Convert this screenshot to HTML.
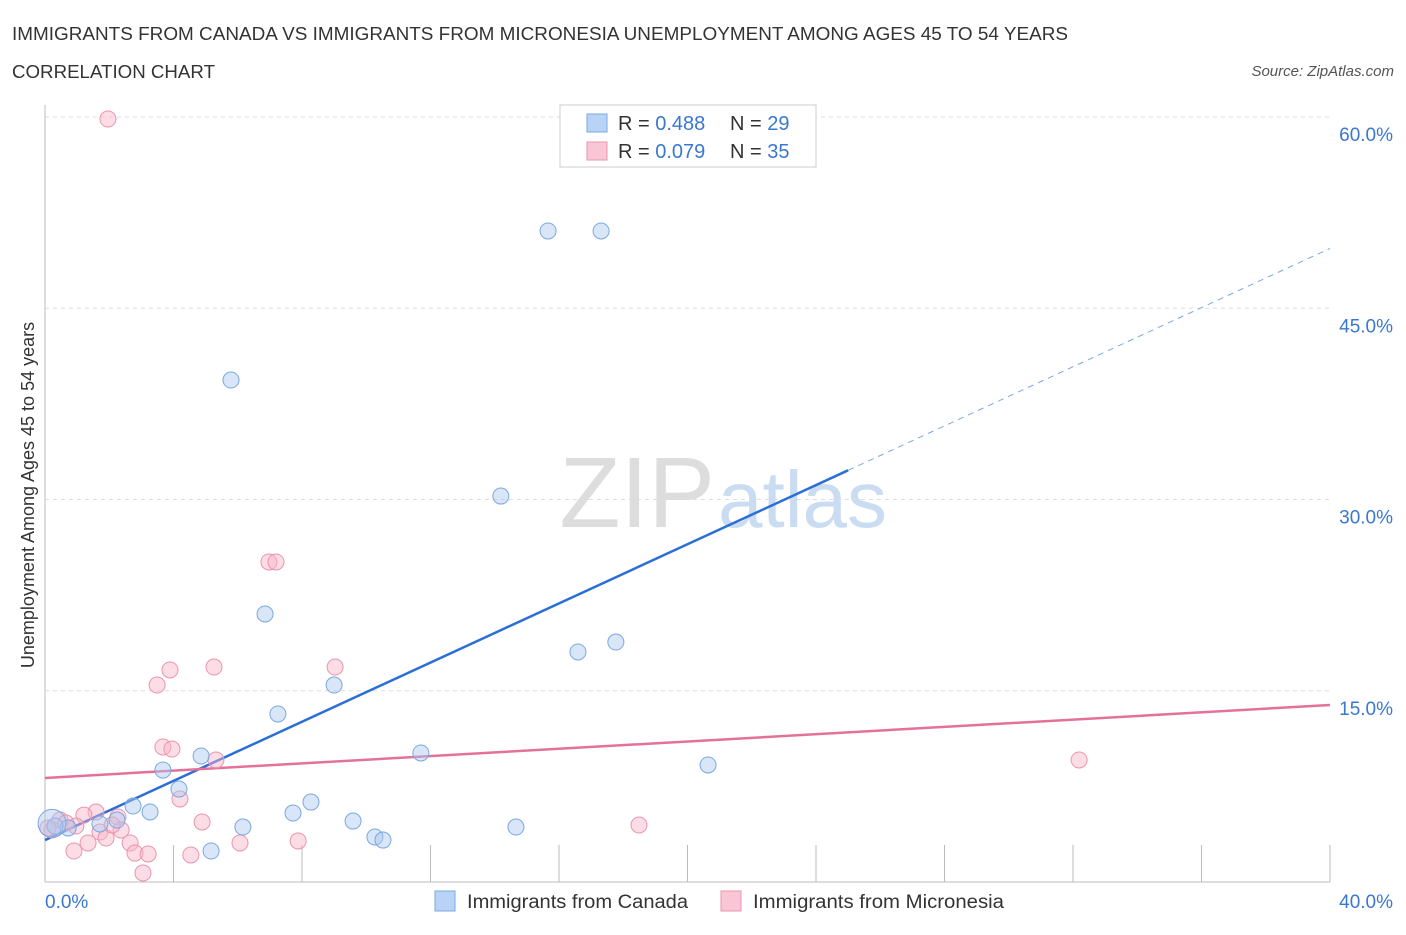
<!DOCTYPE html>
<html><head><meta charset="utf-8"><style>
body{margin:0;background:#fff;font-family:"Liberation Sans",sans-serif;}
svg text{font-family:"Liberation Sans",sans-serif;}
</style></head><body>
<svg width="1406" height="930">
<text x="12" y="40" font-size="18" fill="#333" textLength="1056" lengthAdjust="spacingAndGlyphs">IMMIGRANTS FROM CANADA VS IMMIGRANTS FROM MICRONESIA UNEMPLOYMENT AMONG AGES 45 TO 54 YEARS</text>
<text x="12" y="78" font-size="18" fill="#333" textLength="203" lengthAdjust="spacingAndGlyphs">CORRELATION CHART</text>
<text x="1394" y="76" font-size="15" fill="#555" font-style="italic" text-anchor="end">Source: ZipAtlas.com</text>
<text x="715" y="527" font-size="100" fill="#ddd" font-family="Liberation Serif" text-anchor="end">ZIP</text>
<text x="718" y="527" font-size="80" fill="#c9dcf2">atlas</text>
<g id="grid"></g><g id="axes"></g><g id="lines"></g><g id="pts"></g>
<text transform="translate(34,495) rotate(-90)" font-size="18" fill="#333" text-anchor="middle">Unemployment Among Ages 45 to 54 years</text>
<g>
<rect x="560" y="105" width="256" height="62" fill="#fff" stroke="#ccc"/>
<rect x="587" y="114" width="20" height="18" fill="#b8d3f5" stroke="#7aa8e0"/>
<rect x="587" y="142" width="20" height="18" fill="#f9c6d5" stroke="#ea94ae"/>
<text x="618" y="130" font-size="20" fill="#333">R = <tspan fill="#3a78d0">0.488</tspan></text>
<text x="730" y="130" font-size="20" fill="#333">N = <tspan fill="#3a78d0">29</tspan></text>
<text x="618" y="158" font-size="20" fill="#333">R = <tspan fill="#3a78d0">0.079</tspan></text>
<text x="730" y="158" font-size="20" fill="#333">N = <tspan fill="#3a78d0">35</tspan></text>
</g>
<g>
<rect x="435" y="891" width="20" height="20" fill="#b8d3f5" stroke="#7aa8e0"/>
<text x="467" y="908" font-size="19" fill="#333" textLength="221" lengthAdjust="spacingAndGlyphs">Immigrants from Canada</text>
<rect x="721" y="891" width="20" height="20" fill="#f9c6d5" stroke="#ea94ae"/>
<text x="753" y="908" font-size="19" fill="#333" textLength="251" lengthAdjust="spacingAndGlyphs">Immigrants from Micronesia</text>
</g>
</svg>
<script>
const yTicks=[15,30,45,60];
const yTickLabels=["15.0%","30.0%","45.0%","60.0%"];
const canadaX=[15.66,17.31,5.79,14.19,6.85,16.59,17.77,9.00,7.25,11.70,4.86,3.67,20.64,4.17,2.74,3.27,8.28,7.72,9.59,6.16,14.66,10.27,10.52,5.17,2.24,1.71,0.72,0.31,0.22];
const canadaY=[51.06,51.06,39.37,30.27,21.02,18.04,18.82,15.45,13.18,10.12,9.88,8.78,9.18,7.29,5.96,5.49,6.27,5.41,4.78,4.31,4.31,3.53,3.29,2.43,4.86,4.55,4.24,4.39,4.6];
const microX=[1.96,6.97,7.19,3.89,5.26,9.03,3.49,3.67,3.95,5.32,4.20,32.19,1.59,1.21,2.27,4.89,18.49,0.47,0.96,1.71,2.37,1.90,1.34,2.65,6.07,7.88,0.90,2.80,3.21,4.54,3.05,0.65,0.22,0.09,2.09];
const microY=[59.84,25.10,25.10,16.63,16.86,16.86,15.45,10.59,10.43,9.57,6.51,9.57,5.49,5.25,5.10,4.71,4.47,4.86,4.39,3.92,4.08,3.45,3.06,3.06,3.06,3.22,2.43,2.27,2.20,2.12,0.71,4.63,4.08,4.24,4.47];
const canadaLine=[3.29,1.16];
const microLine=[8.16,0.143];
const X=v=>45+v*32.125, Y=v=>882-v*12.75;
const NS="http://www.w3.org/2000/svg";
function mk(parent,tag,attrs){const e=document.createElementNS(NS,tag);for(const k in attrs)e.setAttribute(k,attrs[k]);document.getElementById(parent).appendChild(e);return e;}
yTicks.forEach((t,i)=>{
 const g=mk('grid','line',{x1:45,x2:1330,y1:Y(t),y2:Y(t),stroke:'#ddd','stroke-dasharray':'4,4'});
 
 
 const l=mk('axes','text',{x:1393,y:Y(t)+24,'font-size':19,fill:'#3a78d0','text-anchor':'end'});
 l.textContent=yTickLabels[i];
 
 
});
const ax=mk('axes','line',{x1:45,x2:1330,y1:882,y2:882,stroke:'#bbb'});


const ay=mk('axes','line',{x1:45,x2:45,y1:105,y2:882,stroke:'#bbb'});


for(let v=0;v<=40;v+=4){const t=mk('axes','line',{x1:X(v),x2:X(v),y1:845,y2:882,stroke:'#bbb'});
 
 }
[[0,"0.0%",'start',45],[40,"40.0%",'end',1393]].forEach(a=>{const t=mk('axes','text',{x:a[3],y:908,'font-size':19,fill:'#3a78d0','text-anchor':a[2]});t.textContent=a[1];
 
 });
const b1=mk('lines','line',{x1:X(0),y1:Y(canadaLine[0]),x2:X(25),y2:Y(canadaLine[0]+25*canadaLine[1]),stroke:'#2b6fd6','stroke-width':2.5});


const b2=mk('lines','line',{x1:X(25),y1:Y(canadaLine[0]+25*canadaLine[1]),x2:X(40),y2:Y(canadaLine[0]+40*canadaLine[1]),stroke:'#7aa8e0','stroke-width':1,'stroke-dasharray':'6,5'});


const p1=mk('lines','line',{x1:X(0),y1:Y(microLine[0]),x2:X(40),y2:Y(microLine[0]+40*microLine[1]),stroke:'#e4719a','stroke-width':2.5});


microX.forEach((x,i)=>{const c=mk('pts','circle',{cx:X(x),cy:Y(microY[i]),r:8,fill:'rgba(248,180,200,0.45)',stroke:'#ea94ae','stroke-width':1});
 
 });
canadaX.forEach((x,i)=>{const c=mk('pts','circle',{cx:X(x),cy:Y(canadaY[i]),r:i==28?14:8,fill:'rgba(170,200,240,0.45)',stroke:'#7aa8e0','stroke-width':1});
 
 });
</script>
</body></html>
